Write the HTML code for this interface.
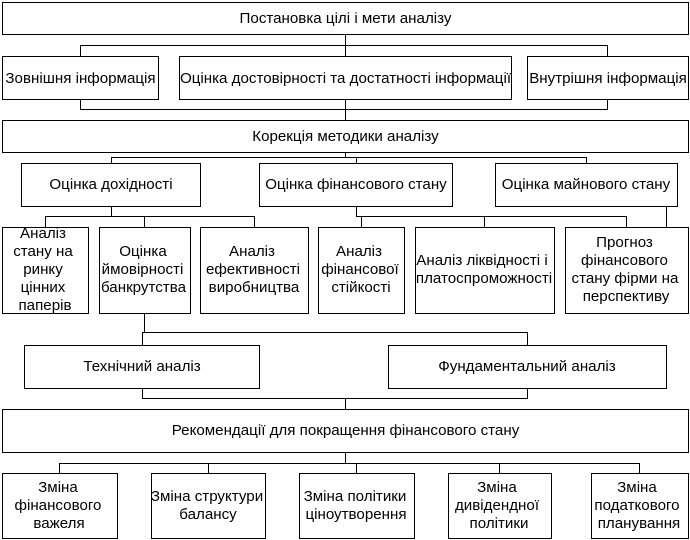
<!DOCTYPE html>
<html>
<head>
<meta charset="utf-8">
<style>
html,body{margin:0;padding:0;background:#fff;width:690px;height:540px;overflow:hidden}
svg{display:block}
rect{fill:#fff;stroke:#000;stroke-width:1}
path{fill:none;stroke:#000;stroke-width:1}
text{font-family:"Liberation Sans",sans-serif;font-size:15.13px;fill:#000;text-anchor:middle}
</style>
</head>
<body>
<svg width="690" height="540" viewBox="0 0 690 540" xmlns="http://www.w3.org/2000/svg">
<path d="M345.5 34.5V120.5M80.5 56.5V45.5H607.5V56.5M80.5 99.5V109.5H607.5V99.5"/>
<path d="M345.5 152.5V157.5M111.5 163.5V157.5H586.5V163.5M356.5 157.5V163.5"/>
<path d="M111.5 206.5V216.5M45.5 227.5V216.5H254.5V227.5M144.5 216.5V227.5"/>
<path d="M356.5 206.5V216.5H626.5V227.5M361.5 216.5V227.5M484.5 216.5V227.5M666.5 206.5V227.5"/>
<path d="M144.5 313.5V332.5M142.5 345.5V332.5H527.5V345.5M142.5 388.5V398.5H527.5V388.5M345.5 398.5V409.5"/>
<path d="M345.5 452.5V463.5M59.5 473.5V463.5H639.5V473.5M208.5 463.5V473.5M356.5 463.5V473.5M499.5 463.5V473.5"/>

<rect x="2.5" y="2.5" width="686" height="32"/>
<rect x="2.5" y="56.5" width="156" height="43"/>
<rect x="179.5" y="56.5" width="332" height="43"/>
<rect x="527.5" y="56.5" width="161" height="43"/>
<rect x="2.5" y="120.5" width="686" height="32"/>
<rect x="21.5" y="163.5" width="179" height="43"/>
<rect x="259.5" y="163.5" width="193" height="43"/>
<rect x="495.5" y="163.5" width="182" height="43"/>
<rect x="2.5" y="227.5" width="86" height="86"/>
<rect x="99.5" y="227.5" width="91" height="86"/>
<rect x="200.5" y="227.5" width="108" height="86"/>
<rect x="318.5" y="227.5" width="86" height="86"/>
<rect x="415.5" y="227.5" width="139" height="86"/>
<rect x="565.5" y="227.5" width="123" height="86"/>
<rect x="24.5" y="345.5" width="235" height="43"/>
<rect x="388.5" y="345.5" width="278" height="43"/>
<rect x="2.5" y="409.5" width="686" height="43"/>
<rect x="2.5" y="473.5" width="115" height="65"/>
<rect x="151.5" y="473.5" width="114" height="65"/>
<rect x="299.5" y="473.5" width="115" height="65"/>
<rect x="448.5" y="473.5" width="103" height="65"/>
<rect x="591.5" y="473.5" width="97" height="65"/>

<text x="345.5" y="23">Постановка цілі і мети аналізу</text>
<text x="80.5" y="83">Зовнішня інформація</text>
<text x="345.5" y="83">Оцінка достовірності та достатності інформації</text>
<text x="608" y="83">Внутрішня інформація</text>
<text x="345.5" y="141">Корекція методики аналізу</text>
<text x="111" y="189">Оцінка дохідності</text>
<text x="356" y="189">Оцінка фінансового стану</text>
<text x="586" y="189">Оцінка майнового стану</text>

<text x="43" y="238">Аналіз</text>
<text x="43" y="256">стану на</text>
<text x="43" y="274">ринку</text>
<text x="43" y="292">цінних</text>
<text x="45" y="310">паперів</text>

<text x="143" y="256">Оцінка</text>
<text x="142.5" y="274">ймовірності</text>
<text x="143.5" y="292">банкрутства</text>

<text x="252" y="256">Аналіз</text>
<text x="253" y="274">ефективності</text>
<text x="254" y="292">виробництва</text>

<text x="359" y="256">Аналіз</text>
<text x="360" y="274">фінансової</text>
<text x="361" y="292">стійкості</text>

<text x="482" y="265">Аналіз ліквідності і</text>
<text x="484" y="283">платоспроможності</text>

<text x="624.5" y="247">Прогноз</text>
<text x="624.5" y="265">фінансового</text>
<text x="625" y="283">стану фірми на</text>
<text x="626" y="301">перспективу</text>

<text x="142" y="371">Технічний аналіз</text>
<text x="527" y="371">Фундаментальний аналіз</text>
<text x="345.5" y="435">Рекомендації для покращення фінансового стану</text>

<text x="58" y="492">Зміна</text>
<text x="58" y="510">фінансового</text>
<text x="59" y="528">важеля</text>
<text x="207" y="501">Зміна структури</text>
<text x="208" y="519">балансу</text>
<text x="355" y="501">Зміна політики</text>
<text x="356" y="519">ціноутворення</text>
<text x="497" y="492">Зміна</text>
<text x="497" y="510">дивідендної</text>
<text x="499" y="528">політики</text>
<text x="637" y="492">Зміна</text>
<text x="637" y="510">податкового</text>
<text x="639" y="528">планування</text>
</svg>
</body>
</html>
